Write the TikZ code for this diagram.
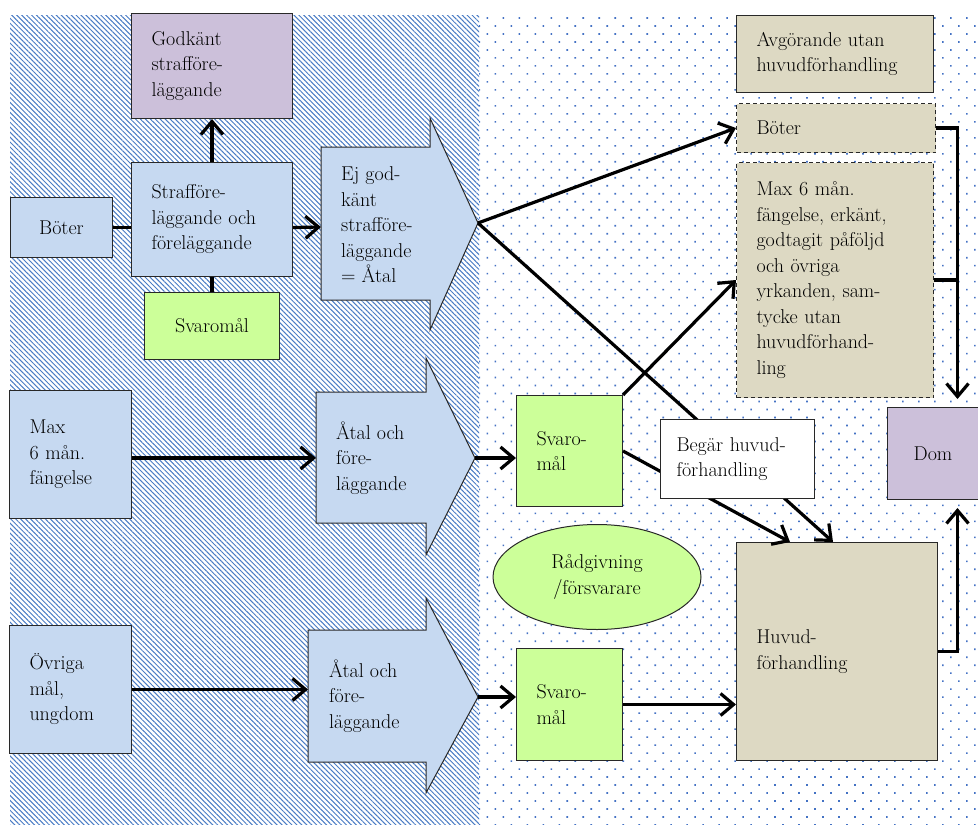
\documentclass[tikz,border=0pt]{standalone}
\usetikzlibrary{arrows.meta,patterns.meta,shapes.geometric}

\definecolor{lblue}{RGB}{198,217,241}
\definecolor{lilac}{RGB}{204,192,218}
\definecolor{lgreen}{RGB}{204,255,153}
\definecolor{sand}{RGB}{221,217,195}
\definecolor{patblue}{RGB}{74,124,196}
\definecolor{dotblue}{RGB}{68,114,196}
\definecolor{edge}{RGB}{40,40,40}

\tikzset{
  box/.style={draw=edge, line width=1pt, inner xsep=20pt, inner ysep=0pt, anchor=north west, align=left},
  dbox/.style={box, dash pattern=on 4pt off 3pt, fill=sand},
  cbox/.style={box, inner xsep=0pt, align=center},
  line/.style={line width=3.2pt},
  arr/.style={line width=3.2pt, -{Straight Barb[length=13pt,width=22pt]}},
  bigarrow/.style={fill=lblue, draw=edge, line width=1pt, line join=miter},
}

\begin{document}
\begin{tikzpicture}[x=1pt, y=-1pt, font=\fontsize{20}{25.5}\selectfont]
\useasboundingbox (0,0) rectangle (978,825);
% background
\fill[pattern={Lines[angle=-45,distance=3.5pt,line width=1pt]}, pattern color=patblue] (10,15) rectangle (479,825);
\fill[pattern={Dots[angle=45,distance=11.3pt,radius=1.15pt]}, pattern color=dotblue] (479,15) rectangle (978,825);

% left column
\node[box, fill=lilac, minimum width=161pt, minimum height=105pt, text width=121pt] (godkant) at (131,13) {Godkänt\\strafföre-\\läggande};
\node[box, fill=lblue, minimum width=161pt, minimum height=114pt, text width=121pt] (straff) at (131,162) {Strafföre-\\läggande och\\föreläggande};
\node[cbox, fill=lblue, minimum width=102pt, minimum height=60pt, text width=102pt] (boter1) at (10,197) {Böter};
\node[cbox, fill=lgreen, minimum width=135pt, minimum height=67pt, text width=135pt] (svar0) at (144,292) {Svaromål};
\node[box, fill=lblue, minimum width=122pt, minimum height=128pt, text width=82pt] (fangelse) at (9,390) {Max\\6 mån.\\fängelse};
\node[box, fill=lblue, minimum width=122pt, minimum height=128pt, text width=82pt] (ovriga) at (9,625) {Övriga\\mål,\\ungdom};

% block arrows
\filldraw[bigarrow] (321,147) -- (430,147) -- (430,118) -- (478,223) -- (430,330) -- (430,300) -- (321,300) -- cycle;
\coordinate (ejin) at (321,227);
\coordinate (ejtip) at (478,223);
\node[anchor=west, align=left, inner sep=0pt] (ej) at (341,225) {Ej god-\\känt\\strafföre-\\läggande\\= Åtal};

\filldraw[bigarrow] (316,392) -- (426,392) -- (426,358) -- (475,458) -- (426,555) -- (426,523) -- (316,523) -- cycle;
\coordinate (atal1in) at (316,458);
\coordinate (atal1tip) at (475,458);
\node[anchor=west, align=left, inner sep=0pt] (atal1) at (336,458) {Åtal och\\före-\\läggande};

\filldraw[bigarrow] (308,630) -- (426,630) -- (426,598) -- (478,697) -- (426,793) -- (426,762) -- (308,762) -- cycle;
\coordinate (atal2in) at (308,689);
\coordinate (atal2tip) at (478,697);
\node[anchor=west, align=left, inner sep=0pt] (atal2) at (329,696) {Åtal och\\före-\\läggande};

% right column
\node[box, fill=sand, minimum width=197pt, minimum height=77pt, text width=157pt] (avgor) at (736,15) {Avgörande utan\\huvudförhandling};
\node[dbox, minimum width=199pt, minimum height=49pt, text width=159pt] (boter2) at (736,103) {Böter};
\node[dbox, minimum width=197pt, minimum height=235pt, text width=157pt] (erkant) at (736,162) {Max 6 mån.\\fängelse, erkänt,\\godtagit påföljd\\och övriga\\yrkanden, sam-\\tycke utan\\huvudförhand-\\ling};
\node[box, fill=lgreen, minimum width=106pt, minimum height=111pt, text width=66pt] (svar1) at (516,395) {Svaro-\\mål};
\node[ellipse, draw=edge, line width=1pt, fill=lgreen, minimum width=208pt, minimum height=105pt, inner sep=0pt, align=center] (radgiv) at (597,577) {Rådgivning\\/försvarare};
\node[box, fill=lgreen, minimum width=106pt, minimum height=112pt, text width=66pt] (svar2) at (516,648) {Svaro-\\mål};
\node[box, fill=sand, minimum width=201pt, minimum height=218pt, text width=161pt] (huvud) at (736,542) {Huvud-\\förhandling};
\node[cbox, fill=lilac, minimum width=91pt, minimum height=92pt, text width=91pt] (dom) at (887,407) {Dom};
\coordinate (domtop) at ([xshift=24.5pt]dom.north);
\coordinate (dombot) at ([xshift=24.5pt]dom.south);

% connectors
\draw[line] (boter1.east) -- (boter1.east -| straff.west);
\draw[arr] (straff.north) -- (godkant.south);
\draw[line] (svar0.north) -- (straff.south);
\draw[arr] (boter1.east -| straff.east) -- (ejin);
\draw[arr] (fangelse.east |- atal1in) -- (atal1in);
\draw[arr] (ovriga.east) -- (ovriga.east -| atal2in);

\draw[arr] (ejtip) -- (boter2.west);
\draw[arr] (ejtip) -- ([xshift=97pt]huvud.north west);
\draw[arr] (atal1tip) -- (atal1tip -| svar1.west);
\draw[arr] (svar1.north east) -- (erkant.west);
\draw[arr] (svar1.east) -- ([xshift=54pt]huvud.north west);
\draw[arr] (atal2tip) -- (atal2tip -| svar2.west);
\draw[arr] (svar2.east) -- (svar2.east -| huvud.west);
\draw[arr, shorten >=8pt] (boter2.east) -| (domtop);
\draw[line] (erkant.east) -- (erkant.east -| domtop);
\draw[arr, shorten >=8pt] (huvud.east) -| (dombot);

\node[box, fill=white, minimum width=154pt, minimum height=79pt, text width=122pt, inner xsep=16pt] (begar) at (660,419) {Begär huvud-\\förhandling};
\end{tikzpicture}
\end{document}
